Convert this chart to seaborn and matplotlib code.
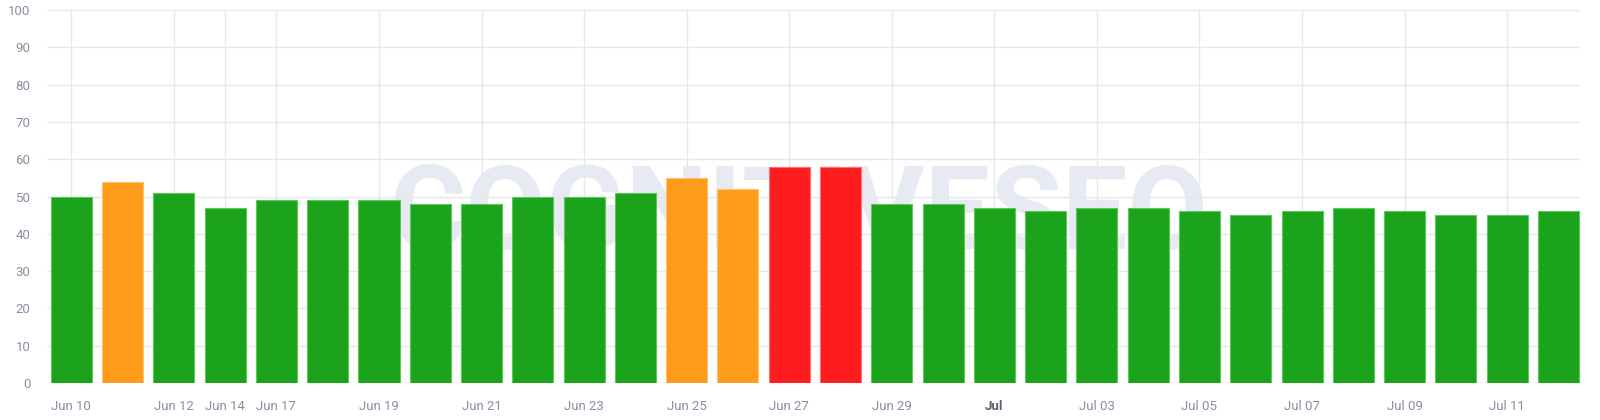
import matplotlib
matplotlib.use("Agg")
import matplotlib.pyplot as plt
import seaborn as sns
import pandas as pd

# --- DATA ---
scores = [50, 54, 51, 47, 49, 49, 49, 48, 48, 50, 50, 51, 55, 52, 58,
          58, 48, 48, 47, 46, 47, 47, 46, 45, 46, 47, 46, 45, 45, 46]
status = ["good", "warn", "good", "good", "good", "good", "good", "good", "good", "good",
          "good", "good", "warn", "warn", "bad", "bad", "good", "good", "good", "good",
          "good", "good", "good", "good", "good", "good", "good", "good", "good", "good"]
tick_bars = [0, 2, 3, 4, 6, 8, 10, 12, 14, 16, 18, 20, 22, 24, 26, 28]
tick_labels = ["Jun 10", "Jun 12", "Jun 14", "Jun 17", "Jun 19", "Jun 21", "Jun 23", "Jun 25",
               "Jun 27", "Jun 29", "Jul", "Jul 03", "Jul 05", "Jul 07", "Jul 09", "Jul 11"]

palette = {"good": "#1ba31b", "warn": "#ff9b1a", "bad": "#ff1c1e"}
edge = {"good": "#5cc85c", "warn": "#ffc070", "bad": "#ff7070"}
text_col = "#8d8ca3"

df = pd.DataFrame({"bar": range(len(scores)), "score": scores, "status": status})

sns.set_style("white")
plt.rcParams["font.family"] = ["Roboto", "DejaVu Sans"]

fig = plt.figure(figsize=(16, 4.2), dpi=100)
ax = fig.add_axes([0.0295, 0.088, 0.958, 0.888])

# watermark behind the bars
ax.text(0.49, 44.5, "COGNITIVESEO", transform=ax.get_yaxis_transform(),
        ha="center", va="center", fontsize=84, fontweight="bold",
        color="#dfe3ef", alpha=0.75, zorder=0.5)

sns.barplot(data=df, x="bar", y="score", hue="status", palette=palette,
            saturation=1, dodge=False, legend=False, width=0.8,
            native_scale=True, ax=ax, zorder=2)

# thin lighter outline on each bar, like the original
for patch in ax.patches:
    fc = matplotlib.colors.to_hex(patch.get_facecolor())
    for k, v in palette.items():
        if fc.lower() == v.lower():
            patch.set_edgecolor(edge[k])
            patch.set_linewidth(0.8)

ax.set_xlim(-0.47, 29.42)
ax.set_ylim(0, 100)
ax.set_yticks(range(0, 101, 10))
ax.set_xticks(tick_bars)
ax.set_xticklabels(tick_labels)

ax.set_axisbelow(True)
ax.grid(True, color="#e7e7ec", linewidth=1)
ax.tick_params(axis="both", length=0, labelsize=9.5, labelcolor=text_col)
ax.tick_params(axis="y", pad=12)
ax.tick_params(axis="x", pad=12)
for lbl in ax.get_xticklabels():
    if lbl.get_text() == "Jul":
        lbl.set_fontweight("bold")
        lbl.set_color("#5d5c75")
ax.set_xlabel("")
ax.set_ylabel("")
for side in ax.spines.values():
    side.set_visible(False)

fig.savefig("out.png", dpi=100, facecolor="white")
